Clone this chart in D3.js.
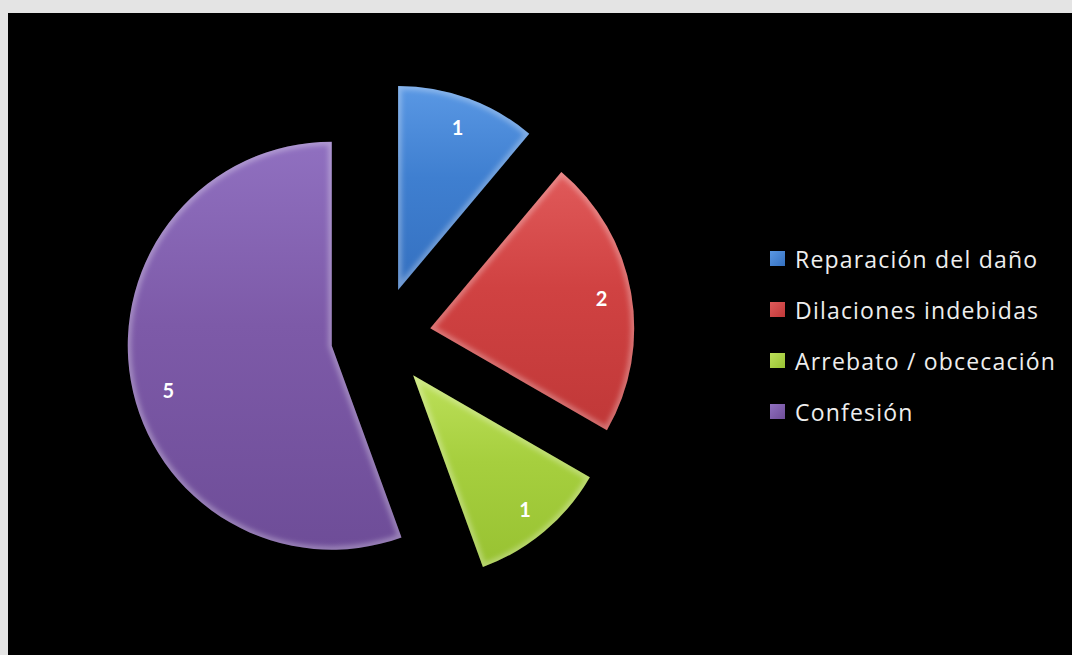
<!DOCTYPE html>
<html>
<head>
<meta charset="utf-8">
<script src="https://cdn.jsdelivr.net/npm/d3@7"></script>
<style>
  html, body { margin: 0; padding: 0; background: #e4e4e4; }
  svg { display: block; }
</style>
</head>
<body>
<svg id="chart" width="1072" height="655"></svg>
<script>
const categories = ["Reparación del daño", "Dilaciones indebidas", "Arrebato / obcecación", "Confesión"];
const values = [1, 2, 1, 5];
const colors = ["#3f7fd0", "#d04242", "#a6cf3e", "#7d5aa8"];
const lightColors = ["#5a98e4", "#e05a5a", "#bde05a", "#9070c0"];
const darkColors = ["#3470c0", "#c03838", "#98c232", "#6e4d98"];

const W = 1072, H = 655;
const svg = d3.select("#chart");
const defs = svg.append("defs");

// frame
svg.append("rect").attr("x", 0).attr("y", 0).attr("width", W).attr("height", H).attr("fill", "#e4e4e4");
svg.append("rect").attr("x", 8).attr("y", 13).attr("width", W - 8).attr("height", H - 13).attr("fill", "#000");

const cx = 381, cy = 337, R = 204, explode = 50;

const pie = d3.pie().sort(null).value(d => d)(values);
const arc = d3.arc().innerRadius(0).outerRadius(R);
const labelArc = d3.arc().innerRadius(174).outerRadius(174);

const blur = defs.append("filter").attr("id", "blur").attr("x", "-20%").attr("y", "-20%").attr("width", "140%").attr("height", "140%");
blur.append("feGaussianBlur").attr("stdDeviation", 2.5);

pie.forEach((p, i) => {
  const g = defs.append("linearGradient").attr("id", "grad" + i)
    .attr("x1", 0).attr("y1", 0).attr("x2", 0).attr("y2", 1);
  g.append("stop").attr("offset", "0%").attr("stop-color", lightColors[i]);
  g.append("stop").attr("offset", "45%").attr("stop-color", colors[i]);
  g.append("stop").attr("offset", "100%").attr("stop-color", darkColors[i]);
  defs.append("clipPath").attr("id", "clip" + i).append("path").attr("d", arc(p));
});

const root = svg.append("g").attr("transform", `translate(${cx},${cy})`);

const slices = root.selectAll("g.slice").data(pie).join("g")
  .attr("class", "slice")
  .attr("transform", d => {
    const m = (d.startAngle + d.endAngle) / 2;
    return `translate(${explode * Math.sin(m)},${-explode * Math.cos(m)})`;
  });

slices.append("path")
  .attr("d", arc)
  .attr("fill", (d, i) => `url(#grad${i})`);

slices.append("g")
  .attr("clip-path", (d, i) => `url(#clip${i})`)
  .append("path")
  .attr("d", arc)
  .attr("fill", "none")
  .attr("stroke", "#ffffff")
  .attr("stroke-opacity", 0.3)
  .attr("stroke-width", 7)
  .attr("filter", "url(#blur)");

slices.append("text")
  .attr("transform", d => {
    const c = labelArc.centroid(d);
    // large slice label sits a little lower, as in the original
    return d.value > 3 ? `translate(${c[0] + 8},${c[1] + 14})` : `translate(${c})`;
  })
  .attr("text-anchor", "middle")
  .attr("dominant-baseline", "central")
  .attr("fill", "#ffffff")
  .attr("font-family", "Lato, 'Open Sans', sans-serif")
  .attr("font-weight", "bold")
  .attr("font-size", 20)
  .text(d => d.value);

// legend
const legend = svg.append("g");
const rowY = d3.scalePoint().domain(categories).range([259, 412]);
categories.forEach((c, i) => {
  const lg = defs.append("linearGradient").attr("id", "lgrad" + i)
    .attr("x1", 0).attr("y1", 0).attr("x2", 1).attr("y2", 1);
  lg.append("stop").attr("offset", "0%").attr("stop-color", lightColors[i]);
  lg.append("stop").attr("offset", "100%").attr("stop-color", darkColors[i]);
  const row = legend.append("g").attr("transform", `translate(0,${rowY(c)})`);
  row.append("rect").attr("x", 770).attr("y", -8).attr("width", 15).attr("height", 15)
    .attr("fill", `url(#lgrad${i})`);
  row.append("text").attr("x", 795).attr("y", 0)
    .attr("dominant-baseline", "central")
    .attr("fill", "#eeeeee")
    .attr("font-family", "'Open Sans', sans-serif")
    .attr("font-size", 23)
    .attr("letter-spacing", 1.2)
    .text(c);
});
</script>
</body>
</html>
